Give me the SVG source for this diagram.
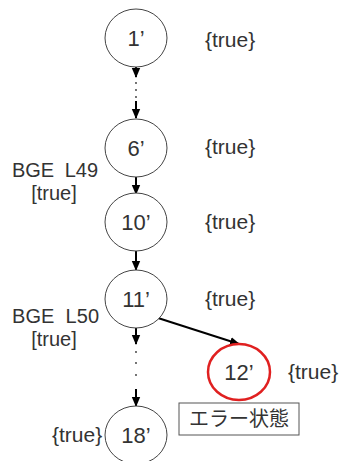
<svg xmlns="http://www.w3.org/2000/svg" width="341" height="461" viewBox="0 0 341 461">
<style>
text{font-family:"Liberation Sans","Noto Sans CJK JP",sans-serif;fill:#333;font-size:21px}
.jp{font-family:"Noto Sans CJK JP",sans-serif;font-size:20px}
.nl{font-size:22px;text-anchor:middle}
.n{fill:#fff;stroke:#444;stroke-width:1}
.err{fill:#fff;stroke:#e02020;stroke-width:2.5}
.c{stroke:#000;stroke-width:2;fill:none}
.d{fill:#333}
.side{font-size:20px}
.mid{text-anchor:middle}
</style>
<defs>
<marker id="ah" markerUnits="userSpaceOnUse" markerWidth="10" markerHeight="10" viewBox="0 0 10 10" refX="9" refY="5" orient="auto">
<path d="M0,0.8 L10,5 L0,9.2 Z" fill="#000"/>
</marker>
</defs>
<rect width="341" height="461" fill="#fff"/>
<g id="connectors">
<line class="c" x1="136" y1="67" x2="136" y2="77" marker-end="url(#ah)"/>
<circle class="d" cx="136" cy="83" r="0.9"/>
<circle class="d" cx="136" cy="90" r="0.9"/>
<circle class="d" cx="136" cy="97" r="0.9"/>
<line class="c" x1="136" y1="101" x2="136" y2="118" marker-end="url(#ah)"/>
<line class="c" x1="136" y1="177" x2="136" y2="194" marker-end="url(#ah)"/>
<line class="c" x1="136" y1="251" x2="136" y2="270" marker-end="url(#ah)"/>
<line class="c" x1="136" y1="328" x2="136" y2="344" marker-end="url(#ah)"/>
<circle class="d" cx="136" cy="352" r="0.9"/>
<circle class="d" cx="136" cy="363" r="0.9"/>
<circle class="d" cx="136" cy="375" r="0.9"/>
<line class="c" x1="136" y1="389" x2="136" y2="406" marker-end="url(#ah)"/>
<line class="c" x1="158" y1="318" x2="239" y2="344" marker-end="url(#ah)"/>
</g>
<g id="n1">
<ellipse class="n" cx="136" cy="38" rx="31" ry="29"/>
<text class="nl" x="136" y="46">1’</text>
<text x="205" y="47">{true}</text>
</g>
<g id="n6">
<ellipse class="n" cx="136" cy="148" rx="31" ry="29"/>
<text class="nl" x="136" y="156">6’</text>
<text x="205" y="154">{true}</text>
<text class="side" x="12" y="177" textLength="86" xml:space="preserve">BGE  L49</text>
<text class="side mid" x="54" y="200">[true]</text>
</g>
<g id="n10">
<ellipse class="n" cx="136" cy="222" rx="31" ry="29"/>
<text class="nl" x="136" y="230">10’</text>
<text x="205" y="229">{true}</text>
</g>
<g id="n11">
<ellipse class="n" cx="136" cy="299" rx="31" ry="29"/>
<text class="nl" x="136" y="307">11’</text>
<text x="205" y="306">{true}</text>
<text class="side" x="12" y="323" textLength="87" xml:space="preserve">BGE  L50</text>
<text class="side mid" x="54" y="346">[true]</text>
</g>
<g id="n12">
<ellipse class="err" cx="239" cy="372" rx="31" ry="28"/>
<text class="nl" x="239" y="380">12’</text>
<text x="288" y="379">{true}</text>
</g>
<g id="err-label">
<rect x="179" y="403" width="120" height="32" fill="#fff" stroke="#555" stroke-width="1"/>
<text class="jp mid" x="239" y="426">エラー状態</text>
</g>
<g id="n18">
<ellipse class="n" cx="136" cy="435" rx="31" ry="29"/>
<text class="nl" x="136" y="443">18’</text>
<text x="52" y="442">{true}</text>
</g>
</svg>
